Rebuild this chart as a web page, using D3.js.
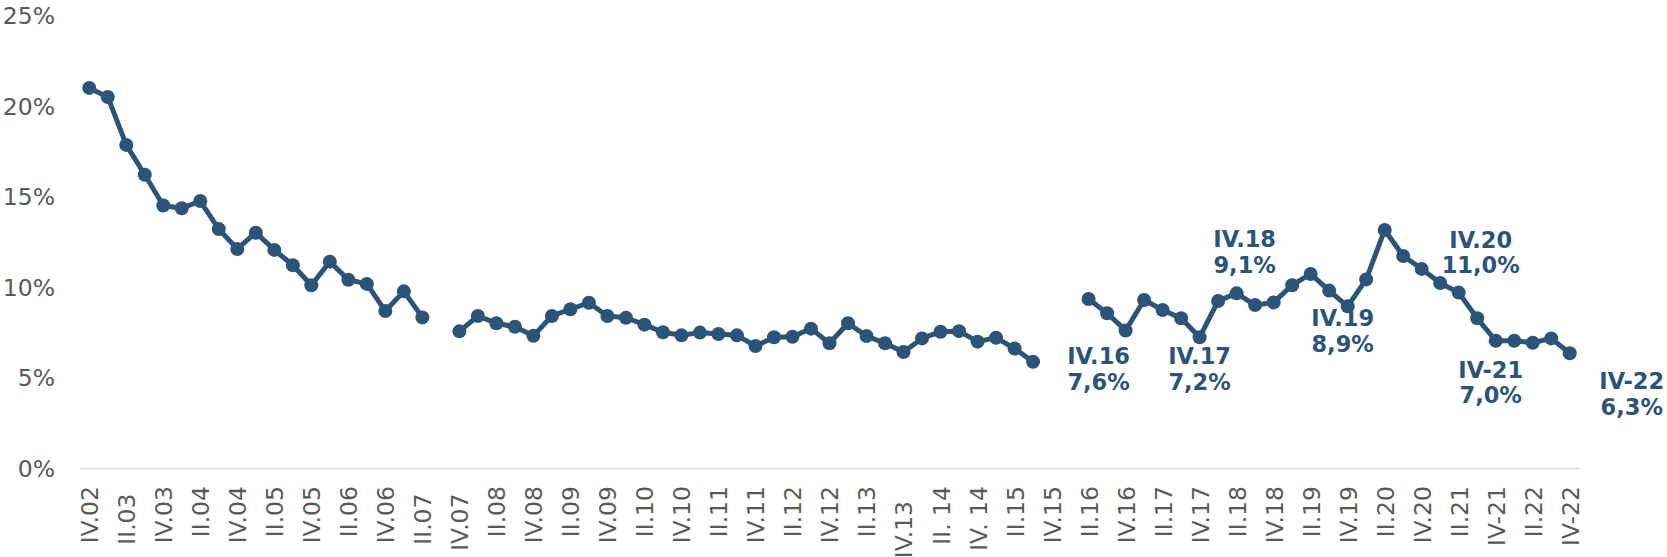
<!DOCTYPE html>
<html>
<head>
<meta charset="utf-8">
<script src="https://cdn.jsdelivr.net/npm/d3@7"></script>
<style>
  html, body { margin: 0; padding: 0; background: #ffffff; }
  svg { display: block; }
  text { font-family: Verdana, "DejaVu Sans", sans-serif; }
</style>
</head>
<body>
<svg id="chart" width="1667" height="557"></svg>
<script>
// ---- data ----
const quarters = [
  "IV.02",
  "I.03","II.03","III.03","IV.03",
  "I.04","II.04","III.04","IV.04",
  "I.05","II.05","III.05","IV.05",
  "I.06","II.06","III.06","IV.06",
  "I.07","II.07","III.07","IV.07",
  "I.08","II.08","III.08","IV.08",
  "I.09","II.09","III.09","IV.09",
  "I.10","II.10","III.10","IV.10",
  "I.11","II.11","III.11","IV.11",
  "I.12","II.12","III.12","IV.12",
  "I.13","II.13","III.13","IV.13",
  "I.14","II.14","III.14","IV.14",
  "I.15","II.15","III.15","IV.15",
  "I.16","II.16","III.16","IV.16",
  "I.17","II.17","III.17","IV.17",
  "I.18","II.18","III.18","IV.18",
  "I.19","II.19","III.19","IV.19",
  "I.20","II.20","III.20","IV.20",
  "I.21","II.21","III.21","IV.21",
  "I.22","II.22","III.22","IV.22"
];

const rates = [
  21.0,
  20.5, 17.85, 16.2, 14.5,
  14.35, 14.75, 13.2, 12.1,
  13.0, 12.05, 11.2, 10.1,
  11.4, 10.4, 10.17, 8.67,
  9.76, 8.32, null, 7.55,
  8.4, 8.0, 7.8, 7.3,
  8.4, 8.77, 9.13, 8.4,
  8.3, 7.92, 7.5, 7.33,
  7.48, 7.4, 7.33, 6.74,
  7.22, 7.25, 7.7, 6.89,
  8.0, 7.29, 6.89, 6.41,
  7.16, 7.53, 7.56, 6.98,
  7.2, 6.6, 5.87, null,
  null, 9.34, 8.55, 7.6,
  9.28, 8.73, 8.27, 7.22,
  9.23, 9.65, 9.0, 9.15,
  10.1, 10.72, 9.8, 8.93,
  10.42, 13.15, 11.71, 11.0,
  10.22, 9.69, 8.27, 7.03,
  7.03, 6.92, 7.16, 6.34
];

// tick labels shown under every second quarter (as in the source, incl. stray spaces)
const tickLabels = [
  "IV.02","II.03 ","IV.03","II.04","IV.04","II.05","IV.05","II.06","IV.06","II.07 ",
  "IV.07 ","II.08","IV.08","II.09","IV.09","II.10","IV.10","II.11","IV.11","II.12",
  "IV.12","II.13","IV.13  ","II. 14","IV. 14","II.15","IV.15","II.16","IV.16","II.17",
  "IV.17","II.18","IV.18","II.19","IV.19","II.20","IV.20","II.21","IV-21","II.22",
  "IV-22"
];

const yTicks = [0, 5, 10, 15, 20, 25];

const annoQuarters = ["IV.16", "IV.17", "IV.18", "IV.19", "IV.20", "IV.21", "IV.22"];
const annoTitles   = ["IV.16", "IV.17", "IV.18", "IV.19", "IV.20", "IV-21", "IV-22"];
const annoValues   = ["7,6%", "7,2%", "9,1%", "8,9%", "11,0%", "7,0%", "6,3%"];

// ---- layout / style ----
const color = "#2c5378";
const svg = d3.select("#chart");

const x = d3.scalePoint().domain(quarters).range([80, 1579]).padding(0.5);
const y = d3.scaleLinear().domain([0, 25]).range([468, 15.5]);

// y axis
const yAxis = svg.append("g")
  .attr("transform", "translate(80,0)")
  .call(d3.axisLeft(y).tickValues(yTicks).tickFormat(d => d + "%").tickSize(0).tickPadding(25));
yAxis.select(".domain").remove();
yAxis.selectAll("text")
  .attr("fill", "#595959")
  .style("font-size", "23.5px")
  .attr("dy", "0.36em");

// x axis
const tickQuarters = quarters.filter((d, i) => i % 2 === 0);
const tickMap = new Map(tickQuarters.map((q, i) => [q, tickLabels[i]]));
const xAxis = svg.append("g")
  .attr("transform", "translate(0,468)")
  .call(d3.axisBottom(x).tickValues(tickQuarters).tickFormat(d => tickMap.get(d)).tickSize(0).tickSizeOuter(0));
xAxis.select(".domain").attr("stroke", "#d9d9d9").attr("stroke-width", 1.5);
xAxis.selectAll("text")
  .attr("fill", "#595959")
  .style("font-size", "23.5px")
  .attr("xml:space", "preserve")
  .style("white-space", "pre")
  .attr("text-anchor", "end")
  .attr("transform", "rotate(-90)")
  .attr("x", -18)
  .attr("y", 0)
  .attr("dy", "0.36em");

// line
const pts = quarters.map((q, i) => ({ q, v: rates[i] }));
const line = d3.line()
  .defined(d => d.v !== null)
  .x(d => x(d.q))
  .y(d => y(d.v));

svg.append("path")
  .datum(pts)
  .attr("fill", "none")
  .attr("stroke", color)
  .attr("stroke-width", 5)
  .attr("stroke-linejoin", "round")
  .attr("d", line);

svg.append("g")
  .selectAll("circle")
  .data(pts.filter(d => d.v !== null))
  .join("circle")
  .attr("cx", d => x(d.q))
  .attr("cy", d => y(d.v))
  .attr("r", 7)
  .attr("fill", color);

// annotations (offsets relative to the annotated point)
const annoOffsets = [[-27, 34], [0, 27], [-29, -55], [-5, 20], [59, -21], [-5, 37], [62, 36]];
const valueOf = new Map(pts.map(d => [d.q, d.v]));
const annos = svg.append("g")
  .selectAll("text")
  .data(annoQuarters.map((q, i) => ({ q, t: annoTitles[i], v: annoValues[i], o: annoOffsets[i] })))
  .join("text")
  .attr("text-anchor", "middle")
  .attr("fill", color)
  .style("font-size", "22.5px")
  .style("font-weight", "bold")
  .attr("x", d => x(d.q) + d.o[0])
  .attr("y", d => y(valueOf.get(d.q)) + d.o[1]);
annos.append("tspan").text(d => d.t);
annos.append("tspan")
  .attr("x", d => x(d.q) + d.o[0])
  .attr("dy", 25.5)
  .text(d => d.v);
</script>
</body>
</html>
